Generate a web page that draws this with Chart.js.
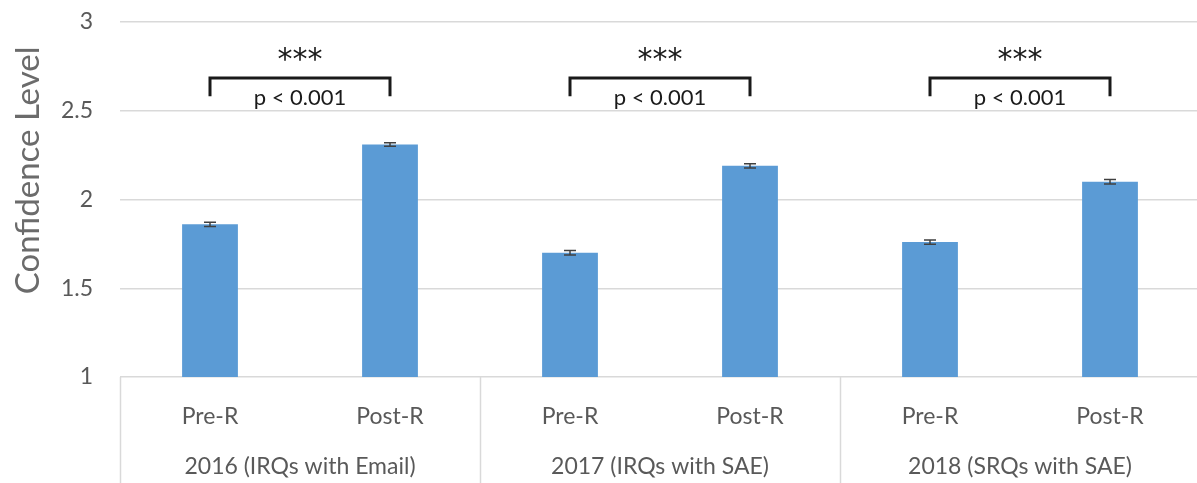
<!DOCTYPE html>
<html>
<head>
<meta charset="utf-8">
<script src="https://cdn.jsdelivr.net/npm/chart.js@4/dist/chart.umd.min.js"></script>
<style>
  html, body { margin: 0; padding: 0; background: #fff; overflow: hidden; }
  #wrap { width: 1200px; height: 483px; }
</style>
</head>
<body>
<div id="wrap"><canvas id="chart"></canvas></div>
<script>
// Conditions shown on the inner axis row
const categories = ['Pre-R', 'Post-R', 'Pre-R', 'Post-R', 'Pre-R', 'Post-R'];
// Outer axis row: one group per survey year
const groups = ['2016 (IRQs with Email)', '2017 (IRQs with SAE)', '2018 (SRQs with SAE)'];
// Mean confidence level and its standard error
const means = [1.86, 2.31, 1.70, 2.19, 1.76, 2.10];
const errors = [0.012, 0.010, 0.012, 0.012, 0.012, 0.012];
// Pairwise comparisons (indices into categories) with their significance labels
const pairs = [[0, 1], [2, 3], [4, 5]];
const stars = ['***', '***', '***'];
const pValues = ['p < 0.001', 'p < 0.001', 'p < 0.001'];
// Value axis
const yMin = 1, yMax = 3, yStep = 0.5;

const FONT = 'Lato, "Open Sans", sans-serif';
const TEXT = '#595959';
const GRID = '#d9d9d9';

const errorBars = {
  id: 'errorBars',
  afterDatasetsDraw(chart) {
    const { ctx, scales: { x, y } } = chart;
    ctx.save();
    ctx.strokeStyle = '#404040';
    ctx.lineWidth = 1.5;
    means.forEach((m, i) => {
      const px = x.getPixelForValue(i);
      const top = y.getPixelForValue(m + errors[i]);
      const bot = y.getPixelForValue(m - errors[i]);
      ctx.beginPath();
      ctx.moveTo(px, top); ctx.lineTo(px, bot);
      ctx.moveTo(px - 6, top); ctx.lineTo(px + 6, top);
      ctx.moveTo(px - 6, bot); ctx.lineTo(px + 6, bot);
      ctx.stroke();
    });
    ctx.restore();
  }
};

const sigBrackets = {
  id: 'sigBrackets',
  afterDraw(chart) {
    const { ctx, scales: { x, y } } = chart;
    const lineTop = y.getPixelForValue(2.685);
    const lineEnd = y.getPixelForValue(2.582);
    ctx.save();
    pairs.forEach(([a, b], k) => {
      const x1 = x.getPixelForValue(a);
      const x2 = x.getPixelForValue(b);
      ctx.strokeStyle = '#1a1a1a';
      ctx.lineWidth = 3;
      ctx.lineCap = 'butt';
      ctx.beginPath();
      ctx.moveTo(x1, lineEnd);
      ctx.lineTo(x1, lineTop);
      ctx.lineTo(x2, lineTop);
      ctx.lineTo(x2, lineEnd);
      ctx.stroke();
      ctx.fillStyle = '#1a1a1a';
      ctx.textAlign = 'center';
      ctx.textBaseline = 'middle';
      ctx.font = '30px "DejaVu Sans", ' + FONT;
      ctx.fillText(stars[k], (x1 + x2) / 2, y.getPixelForValue(2.78));
      ctx.font = '22px ' + FONT;
      ctx.fillText(pValues[k], (x1 + x2) / 2, y.getPixelForValue(2.57));
    });
    ctx.restore();
  }
};

const groupAxis = {
  id: 'groupAxis',
  afterDraw(chart) {
    const { ctx, chartArea, scales: { x } } = chart;
    const per = categories.length / groups.length;
    const half = (x.getPixelForValue(1) - x.getPixelForValue(0)) / 2;
    const bottom = chart.height;
    ctx.save();
    ctx.strokeStyle = GRID;
    ctx.lineWidth = 1.5;
    for (let g = 0; g <= groups.length; g++) {
      const idx = g * per;
      const px = Math.round(x.getPixelForValue(Math.min(idx, categories.length - 1)) + (idx >= categories.length ? half : -half)) + 0.5;
      ctx.beginPath();
      ctx.moveTo(px, chartArea.bottom);
      ctx.lineTo(px, bottom);
      ctx.stroke();
    }
    ctx.fillStyle = TEXT;
    ctx.font = '23px ' + FONT;
    ctx.textAlign = 'center';
    ctx.textBaseline = 'middle';
    groups.forEach((label, g) => {
      const a = x.getPixelForValue(g * per);
      const b = x.getPixelForValue(g * per + per - 1);
      ctx.fillText(label, (a + b) / 2, chartArea.bottom + 90);
    });
    ctx.restore();
  }
};

const yTitle = {
  id: 'yTitle',
  afterDraw(chart) {
    const { ctx, chartArea } = chart;
    ctx.save();
    ctx.translate(28, chartArea.top + (chartArea.bottom - chartArea.top) * 0.418);
    ctx.rotate(-Math.PI / 2);
    ctx.fillStyle = '#6b6b6b';
    ctx.font = '33px ' + FONT;
    ctx.textAlign = 'center';
    ctx.textBaseline = 'middle';
    ctx.fillText('Confidence Level', 0, 0);
    ctx.restore();
  }
};

new Chart(document.getElementById('chart'), {
  type: 'bar',
  data: {
    labels: categories,
    datasets: [{
      data: means,
      backgroundColor: '#5b9bd5',
      borderWidth: 0,
      barPercentage: 0.31,
      categoryPercentage: 1
    }]
  },
  options: {
    responsive: true,
    maintainAspectRatio: false,
    animation: false,
    layout: { padding: { top: 22, right: 0, bottom: 0, left: 0 } },
    plugins: { legend: { display: false }, tooltip: { enabled: false } },
    scales: {
      x: {
        grid: { display: false, drawTicks: false },
        border: { display: false },
        ticks: { color: TEXT, font: { family: FONT, size: 23 }, padding: 26, maxRotation: 0 },
        afterFit(scale) { scale.height = 106; scale.paddingLeft = 0; scale.paddingRight = 0; }
      },
      y: {
        min: yMin,
        max: yMax,
        ticks: {
          stepSize: yStep, color: TEXT, font: { family: FONT, size: 23 }, padding: 27,
          callback: (v) => String(v)
        },
        grid: { color: GRID, lineWidth: 1.5, drawTicks: false },
        border: { display: false },
        afterFit(scale) { scale.width = 120; scale.paddingTop = 0; scale.paddingBottom = 0; }
      }
    }
  },
  plugins: [errorBars, sigBrackets, groupAxis, yTitle]
});
</script>
</body>
</html>
